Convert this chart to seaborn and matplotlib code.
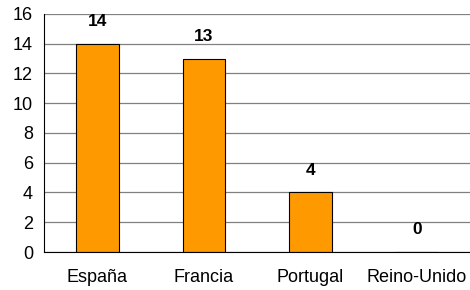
import pandas as pd
import seaborn as sns
import matplotlib.pyplot as plt
from matplotlib.ticker import FixedLocator

paises = ['España', 'Francia', 'Portugal', 'Reino-Unido']
valores = [14, 13, 4, 0]

df = pd.DataFrame({'pais': paises, 'valor': valores})

sns.set_style('white')
plt.rcParams['font.family'] = ['Liberation Sans', 'DejaVu Sans']
plt.rcParams['text.color'] = 'black'
plt.rcParams['xtick.color'] = 'black'
plt.rcParams['ytick.color'] = 'black'

fig = plt.figure(figsize=(4.7, 2.9), dpi=100)
ax = fig.add_axes([0.094, 0.131, 0.906, 0.821])

sns.barplot(data=df, x='pais', y='valor', color='#FF9900', edgecolor='black',
            linewidth=0.8, width=0.4, saturation=1, ax=ax)

for i, v in enumerate(valores):
    ax.annotate(str(v), (i, v), xytext=(0, 16), textcoords='offset points',
                ha='center', va='center', fontsize=12.5, fontweight='bold')

ax.set_ylim(0, 16)
ax.set_xlim(-0.5, 3.5)
ax.set_yticks(range(0, 17, 2))
ax.yaxis.grid(True, color='#808080', linewidth=0.9)
ax.set_axisbelow(True)
ax.set_xlabel('')
ax.set_ylabel('')

ax.xaxis.set_minor_locator(FixedLocator([0.5, 1.5, 2.5]))
ax.tick_params(axis='x', which='major', length=0, labelsize=13, pad=12)
ax.tick_params(axis='x', which='minor', length=4, direction='out', width=0.8)
ax.tick_params(axis='y', length=4, direction='out', width=0.8, labelsize=13, pad=4)

for s in ['top', 'right']:
    ax.spines[s].set_visible(False)
for s in ['left', 'bottom']:
    ax.spines[s].set_color('black')
    ax.spines[s].set_linewidth(0.8)

fig.savefig('out.png', dpi=100)
